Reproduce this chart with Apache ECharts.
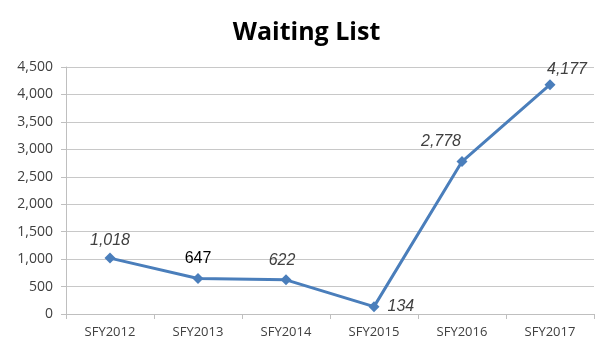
<!DOCTYPE html>
<html><head><meta charset="utf-8">
<script src="https://cdn.jsdelivr.net/npm/echarts@6/dist/echarts.min.js"></script>
<style>html,body{margin:0;padding:0;background:#fff}#c{width:613px;height:353px}</style>
</head><body><div id="c"></div>
<script>
var categories = ['SFY2012','SFY2013','SFY2014','SFY2015','SFY2016','SFY2017'];
var values = [1018, 647, 622, 134, 2778, 4177];
var yTicks = {min: 0, max: 4500, interval: 500};

var labelCfg = [
  {position:'top', offset:[0,2], italic:true, color:'#404040'},
  {position:'top', offset:[0,0], italic:false, color:'#000000'},
  {position:'top', offset:[-4,0], italic:true, color:'#404040'},
  {position:'right', offset:[2,0], italic:true, color:'#404040'},
  {position:'top', offset:[-21,0], italic:true, color:'#404040'},
  {position:'top', offset:[17,4], italic:true, color:'#404040'}
];
var data = values.map(function(v,i){
  var c = labelCfg[i];
  return {value:v, label:{position:c.position, offset:c.offset, fontStyle:c.italic?'italic':'normal', color:c.color}};
});
var chart = echarts.init(document.getElementById('c'), null, {renderer:'canvas'});
chart.setOption({
  animation:false,
  title:{text:'Waiting List', left:'center', top:15, textStyle:{fontFamily:'Open Sans', fontWeight:'bold', fontSize:25, color:'#000'}},
  grid:{left:66, right:19, top:67, bottom:39},
  xAxis:{type:'category', data:categories, boundaryGap:true,
    axisLine:{lineStyle:{color:'#bfbfbf'}},
    axisTick:{show:true, length:5, lineStyle:{color:'#bfbfbf'}},
    axisLabel:{color:'#404040', fontFamily:'Open Sans', fontSize:13, margin:12}},
  yAxis:{type:'value', min:yTicks.min, max:yTicks.max, interval:yTicks.interval,
    axisLine:{show:true, lineStyle:{color:'#bfbfbf'}},
    axisTick:{show:true, length:5, lineStyle:{color:'#bfbfbf'}},
    splitLine:{lineStyle:{color:'#c8c8c8'}},
    axisLabel:{color:'#404040', fontFamily:'Open Sans', fontSize:14, margin:13,
      formatter:function(v){return v.toLocaleString('en-US');}}},
  series:[{type:'line', data:data, symbol:'diamond', symbolSize:11,
    lineStyle:{color:'#4a7ebb', width:3}, itemStyle:{color:'#4a7ebb'},
    label:{show:true, fontFamily:'Arial', fontSize:16, distance:6,
      formatter:function(p){return p.value.toLocaleString('en-US');}}}]
});
</script></body></html>
